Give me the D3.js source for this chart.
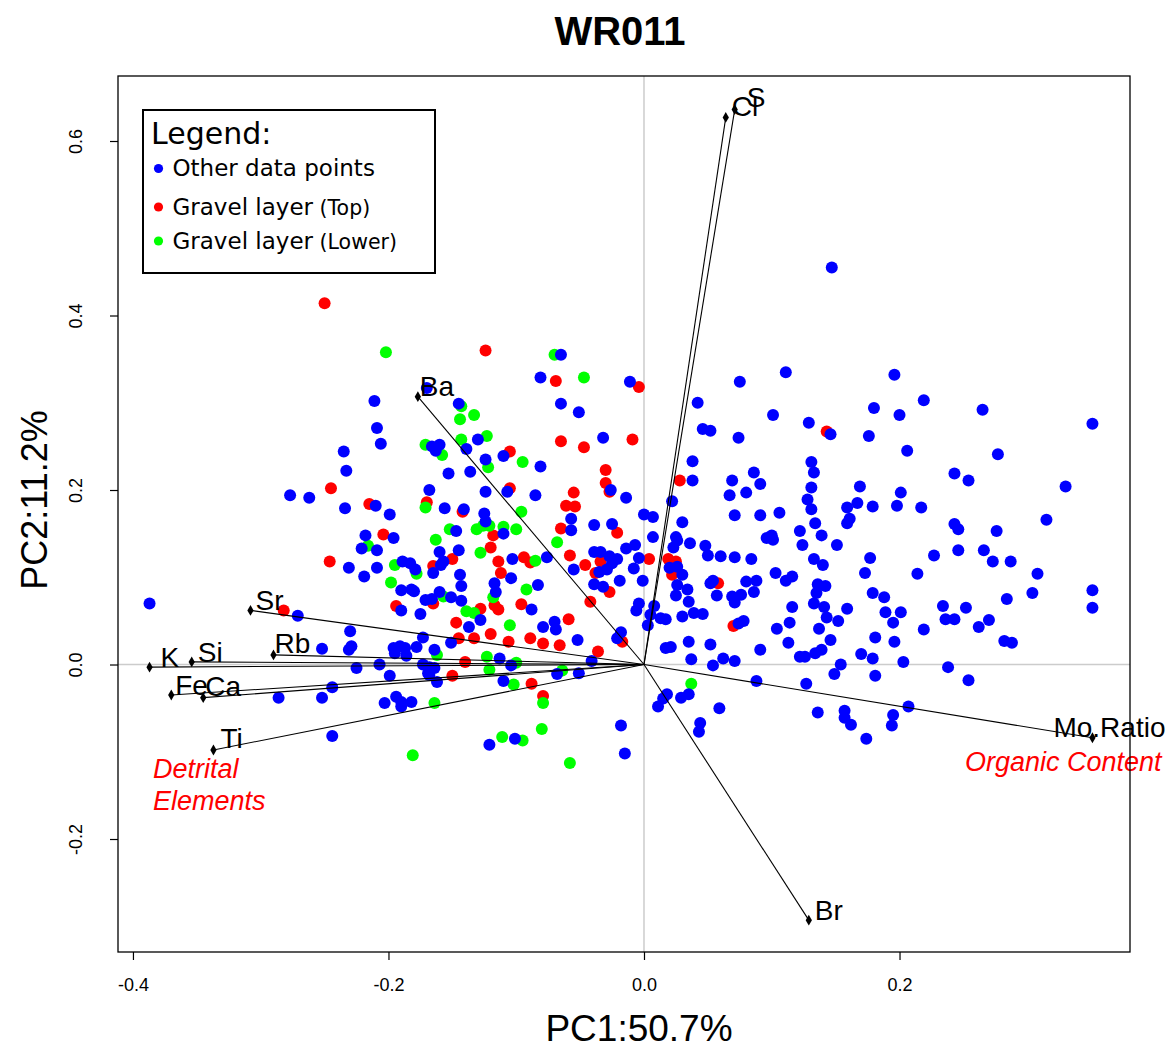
<!DOCTYPE html>
<html>
<head>
<meta charset="utf-8">
<script src="https://cdn.jsdelivr.net/npm/d3@7"></script>
<style>
  body { margin: 0; background: #ffffff; }
</style>
</head>
<body>
<svg id="chart" width="1173" height="1048"></svg>
<script>
// ---- PCA biplot data -------------------------------------------------------
const chartTitle = "WR011";
const xTitle = "PC1:50.7%";
const yTitle = "PC2:11.2%";
const xTicks = [-0.4, -0.2, 0.0, 0.2];
const yTicks = [-0.2, 0.0, 0.2, 0.4, 0.6];
const xLimits = [-0.4117, 0.3804];
const yLimits = [-0.3295, 0.6745];

// Variable loadings (arrow tips)
const varNames = ["Ba", "Sr", "Rb", "K", "Si", "Fe", "Ca", "Ti", "Cl", "S", "Br", "Mo.Ratio"];
const loadX = [-0.177, -0.308, -0.290, -0.387, -0.354, -0.370, -0.345, -0.337, 0.064, 0.071, 0.129, 0.351];
const loadY = [0.307, 0.062, 0.011, -0.003, 0.003, -0.035, -0.038, -0.098, 0.627, 0.636, -0.293, -0.084];

// Sample scores: PC1, PC2
const otherPoints = [
  [-0.277,0.194],[-0.262,0.191],[-0.081,0.329],[-0.170,0.317],[-0.211,0.302],[-0.145,0.299],[-0.130,0.258],[-0.209,0.271],[-0.206,0.253],[-0.166,0.250],
  [-0.160,0.252],[-0.163,0.245],[-0.139,0.247],[-0.235,0.244],[-0.110,0.239],[-0.124,0.235],[-0.081,0.227],[-0.233,0.222],[-0.153,0.219],[-0.136,0.221],
  [-0.168,0.200],[-0.124,0.198],[-0.107,0.198],[-0.085,0.194],[-0.210,0.182],[-0.234,0.179],[-0.199,0.172],[-0.156,0.179],[-0.141,0.178],[-0.125,0.173],
  [-0.065,0.355],[-0.011,0.324],[-0.065,0.299],[-0.051,0.289],[0.042,0.300],[0.046,0.270],[0.052,0.268],[-0.032,0.260],[0.038,0.233],[0.038,0.211],
  [-0.026,0.200],[-0.014,0.191],[0.022,0.187],[-0.057,0.167],[0.000,0.172],[0.007,0.169],
  [0.147,0.455],[0.111,0.335],[0.075,0.324],[0.196,0.332],[0.219,0.303],[0.180,0.294],[0.101,0.286],[0.200,0.286],[0.129,0.277],[0.146,0.264],
  [0.176,0.262],[0.074,0.260],[0.206,0.245],[0.131,0.232],[0.133,0.220],[0.086,0.220],[0.069,0.211],[0.091,0.207],[0.131,0.203],[0.169,0.204],
  [0.201,0.197],[0.067,0.194],[0.080,0.197],[0.128,0.189],[0.131,0.178],[0.167,0.185],[0.159,0.180],[0.179,0.181],[0.198,0.182],[0.217,0.180],
  [0.071,0.171],[0.091,0.171],[0.106,0.174],[0.161,0.167],
  [0.265,0.292],[0.351,0.276],[0.277,0.241],[0.243,0.219],[0.254,0.211],[0.330,0.204],[0.315,0.166],[0.243,0.161],[0.246,0.155],[0.276,0.153],
  [-0.387,0.070],[-0.271,0.056],[-0.252,0.018],[-0.244,-0.026],[-0.286,-0.038],[-0.252,-0.038],[-0.244,-0.082],
  [-0.124,0.164],[-0.147,0.153],[-0.110,0.150],[-0.218,0.148],[-0.196,0.145],[-0.221,0.133],[-0.209,0.131],[-0.145,0.131],[-0.160,0.129],
  [-0.231,0.111],[-0.209,0.111],[-0.219,0.101],[-0.189,0.118],[-0.183,0.116],[-0.179,0.109],[-0.157,0.118],[-0.159,0.114],[-0.165,0.105],[-0.144,0.103],
  [-0.143,0.090],[-0.103,0.121],[-0.104,0.099],[-0.117,0.093],[-0.116,0.083],[-0.083,0.091],[-0.190,0.085],[-0.182,0.086],[-0.180,0.084],[-0.160,0.083],
  [-0.151,0.077],[-0.171,0.074],[-0.166,0.075],[-0.143,0.073],[-0.190,0.062],[-0.175,0.058],[-0.128,0.051],[-0.088,0.063],[-0.137,0.043],[-0.151,0.025],
  [-0.230,0.038],[-0.173,0.031],[-0.229,0.021],[-0.231,0.017],[-0.196,0.019],[-0.191,0.021],[-0.187,0.019],[-0.195,0.013],[-0.186,0.010],[-0.178,0.020],
  [-0.164,0.017],[-0.207,0.000],[-0.225,-0.004],[-0.173,0.000],[-0.168,-0.003],[-0.164,-0.004],[-0.169,-0.010],[-0.168,-0.012],[-0.113,0.007],[-0.104,-0.001],
  [-0.199,-0.013],[-0.162,-0.020],[-0.110,-0.019],[-0.194,-0.037],[-0.190,-0.043],[-0.182,-0.043],[-0.203,-0.044],[-0.190,-0.048],[-0.101,-0.085],[-0.121,-0.092],
  [-0.057,0.154],[-0.039,0.160],[-0.025,0.161],[0.007,0.146],[0.030,0.163],[0.025,0.146],[0.026,0.142],[0.023,0.134],[0.036,0.139],[0.048,0.136],
  [0.050,0.125],[0.060,0.124],[0.071,0.123],[-0.076,0.123],[-0.039,0.129],[-0.034,0.129],[-0.027,0.124],[-0.021,0.121],[-0.025,0.116],[-0.055,0.109],
  [-0.035,0.106],[-0.029,0.109],[-0.014,0.133],[-0.007,0.137],[-0.004,0.122],[-0.008,0.110],[0.020,0.111],[0.026,0.112],[0.030,0.103],[0.026,0.091],
  [0.034,0.086],[0.054,0.096],[0.052,0.093],[0.057,0.079],[0.069,0.078],[0.071,0.071],[-0.039,0.092],[-0.032,0.089],[-0.019,0.096],[-0.001,0.096],
  [0.025,0.079],[0.035,0.072],[-0.004,0.070],[-0.006,0.062],[0.008,0.067],[0.005,0.057],[0.013,0.053],[0.017,0.052],[0.030,0.055],[0.039,0.059],
  [0.046,0.058],[-0.079,0.043],[-0.070,0.049],[-0.069,0.040],[0.003,0.045],[-0.018,0.037],[-0.021,0.030],[-0.052,0.028],[0.017,0.019],[0.021,0.020],
  [0.035,0.026],[0.052,0.023],[0.037,0.006],[0.054,-0.001],[0.062,0.007],[0.071,0.004],[-0.041,0.004],[-0.068,-0.011],[-0.051,-0.010],[0.035,-0.034],
  [0.029,-0.038],[0.018,-0.034],[0.015,-0.039],[0.011,-0.048],[0.059,-0.050],[-0.018,-0.070],[0.044,-0.067],[0.043,-0.077],[-0.015,-0.102],
  [0.134,0.162],[0.159,0.162],[0.122,0.153],[0.139,0.148],[0.096,0.145],[0.100,0.148],[0.101,0.143],[0.124,0.137],[0.151,0.137],[0.084,0.121],
  [0.133,0.121],[0.140,0.114],[0.177,0.122],[0.227,0.125],[0.103,0.105],[0.173,0.105],[0.214,0.104],[0.111,0.096],[0.116,0.101],[0.080,0.095],
  [0.088,0.096],[0.136,0.092],[0.142,0.090],[0.135,0.082],[0.086,0.083],[0.076,0.080],[0.179,0.082],[0.188,0.077],[0.116,0.066],[0.133,0.070],
  [0.141,0.066],[0.143,0.054],[0.159,0.064],[0.189,0.060],[0.201,0.060],[0.195,0.048],[0.152,0.050],[0.114,0.048],[0.078,0.050],[0.074,0.047],
  [0.104,0.041],[0.137,0.041],[0.219,0.040],[0.181,0.031],[0.196,0.026],[0.146,0.028],[0.113,0.025],[0.091,0.017],[0.122,0.009],[0.126,0.009],
  [0.134,0.013],[0.139,0.017],[0.170,0.012],[0.179,0.007],[0.203,0.003],[0.154,0.000],[0.149,-0.011],[0.181,-0.013],[0.088,-0.019],[0.127,-0.022],
  [0.207,-0.048],[0.136,-0.055],[0.157,-0.053],[0.157,-0.061],[0.162,-0.069],[0.195,-0.058],[0.194,-0.070],[0.174,-0.085],
  [0.246,0.131],[0.266,0.131],[0.273,0.118],[0.287,0.118],[0.308,0.104],[0.304,0.082],[0.284,0.075],[0.351,0.085],[0.351,0.065],[0.234,0.067],
  [0.252,0.065],[0.236,0.052],[0.243,0.052],[0.270,0.051],[0.262,0.043],[0.282,0.027],[0.288,0.025],[0.238,-0.003],[0.254,-0.018]
];

const gravelTop = [
  [-0.250,0.414],[-0.245,0.202],[-0.124,0.360],[-0.105,0.244],[-0.105,0.202],[-0.215,0.184],[-0.170,0.186],[-0.142,0.175],[-0.069,0.325],[-0.004,0.318],
  [-0.065,0.256],[-0.047,0.249],[-0.009,0.258],[-0.030,0.223],[-0.030,0.208],[0.028,0.211],[-0.055,0.197],[-0.027,0.198],[-0.061,0.182],[-0.054,0.181],
  [0.143,0.267],[-0.246,0.118],[-0.282,0.062],[-0.204,0.149],[-0.118,0.148],[-0.120,0.134],[-0.165,0.113],[-0.150,0.121],[-0.114,0.118],[-0.094,0.123],
  [-0.089,0.117],[-0.112,0.105],[-0.165,0.070],[-0.194,0.067],[-0.128,0.064],[-0.117,0.068],[-0.114,0.063],[-0.096,0.069],[-0.147,0.048],[-0.120,0.035],
  [-0.089,0.030],[-0.106,0.026],[-0.145,0.030],[-0.133,0.030],[-0.140,0.003],[-0.150,-0.013],[-0.088,-0.022],[-0.065,0.156],[-0.021,0.151],[-0.058,0.125],
  [-0.034,0.118],[-0.046,0.114],[-0.038,0.105],[0.004,0.121],[0.019,0.121],[0.025,0.118],[0.022,0.103],[0.058,0.093],[-0.027,0.083],[-0.042,0.072],
  [0.070,0.044],[-0.059,0.052],[-0.017,0.026],[-0.079,0.024],[-0.066,0.022],[-0.036,0.015],[-0.079,-0.036]
];

const gravelLower = [
  [-0.202,0.358],[-0.070,0.355],[-0.047,0.329],[-0.143,0.296],[-0.133,0.286],[-0.144,0.281],[-0.123,0.262],[-0.143,0.258],[-0.171,0.252],[-0.158,0.240],
  [-0.095,0.232],[-0.122,0.226],[-0.171,0.180],[-0.096,0.175],[-0.152,0.155],[-0.131,0.155],[-0.126,0.159],[-0.121,0.159],[-0.110,0.158],[-0.100,0.155],
  [-0.163,0.143],[-0.216,0.136],[-0.128,0.128],[-0.195,0.114],[-0.178,0.104],[-0.085,0.119],[-0.092,0.086],[-0.198,0.094],[-0.157,0.078],[-0.118,0.077],
  [-0.139,0.061],[-0.133,0.059],[-0.105,0.045],[-0.162,0.011],[-0.123,0.009],[-0.121,-0.006],[-0.100,0.002],[-0.102,-0.023],[-0.164,-0.044],[-0.111,-0.083],
  [-0.095,-0.087],[-0.181,-0.104],[-0.068,0.140],[-0.064,-0.007],[0.037,-0.022],[-0.079,-0.044],[-0.080,-0.074],[-0.058,-0.113]
];

const legendTitle = "Legend:";
const legendItems = [
  { main: "Other data points", note: "", color: "#0000ff" },
  { main: "Gravel layer", note: "(Top)", color: "#ff0000" },
  { main: "Gravel layer", note: "(Lower)", color: "#00ff00" }
];
const groupNotes = [
  { lines: ["Detrital", "Elements"], anchor: "start" },
  { lines: ["Organic Content"], anchor: "start" }
];

// ---- layout --------------------------------------------------------------
const sansFont = "'Liberation Sans', Arial, sans-serif";
const legendFont = "'DejaVu Sans', Verdana, sans-serif";
const svg = d3.select("#chart");
const box = { left: 118, right: 1130, top: 76, bottom: 952 };

const x = d3.scaleLinear().domain(xLimits).range([box.left, box.right]);
const y = d3.scaleLinear().domain(yLimits).range([box.bottom, box.top]);
const fmt = d => d.toFixed(1);

svg.append("rect").attr("width", 1173).attr("height", 1048).attr("fill", "#fff");

// zero reference lines
svg.append("line")
  .attr("x1", x(0)).attr("x2", x(0)).attr("y1", box.top).attr("y2", box.bottom)
  .attr("stroke", "#cccccc").attr("stroke-width", 1.5);
svg.append("line")
  .attr("x1", box.left).attr("x2", box.right).attr("y1", y(0)).attr("y2", y(0))
  .attr("stroke", "#cccccc").attr("stroke-width", 1.5);

// sample points
const pointLayers = [
  { data: gravelTop, color: "#ff0000" },
  { data: gravelLower, color: "#00ff00" },
  { data: otherPoints, color: "#0000ff" }
];
pointLayers.forEach(layer => {
  svg.append("g").selectAll("circle")
    .data(layer.data)
    .join("circle")
    .attr("cx", d => x(d[0]))
    .attr("cy", d => y(d[1]))
    .attr("r", 6)
    .attr("fill", layer.color);
});

// loading arrows
const loadings = varNames.map((n, i) => ({ name: n, lx: loadX[i], ly: loadY[i] }));
const labelShift = {
  "Ba": [2, -1], "Sr": [5, 0], "Rb": [1, -2], "K": [11, 0], "Si": [6, 0], "Fe": [4, 0],
  "Ca": [2, -2], "Ti": [7, -2], "Cl": [6, -1], "S": [12, -3], "Br": [6, 0], "Mo.Ratio": [-39, -1]
};
const arrows = svg.append("g");
arrows.selectAll("line")
  .data(loadings)
  .join("line")
  .attr("x1", x(0)).attr("y1", y(0))
  .attr("x2", d => x(d.lx)).attr("y2", d => y(d.ly))
  .attr("stroke", "#000").attr("stroke-width", 1.1);
arrows.selectAll("path")
  .data(loadings)
  .join("path")
  .attr("d", d3.symbol(d3.symbolDiamond, 34))
  .attr("transform", d => `translate(${x(d.lx)},${y(d.ly)})`)
  .attr("fill", "#000");
arrows.selectAll("text")
  .data(loadings)
  .join("text")
  .attr("x", d => x(d.lx) + labelShift[d.name][0])
  .attr("y", d => y(d.ly) + labelShift[d.name][1])
  .style("font-family", sansFont)
  .attr("font-size", 28)
  .attr("fill", "#000")
  .text(d => d.name);

// group annotations
const notePos = [[153, 778], [965, 771]];
groupNotes.forEach((g, i) => {
  g.lines.forEach((line, j) => {
    svg.append("text")
      .attr("x", notePos[i][0]).attr("y", notePos[i][1] + j * 32)
      .style("font-family", sansFont)
      .attr("font-size", 27).attr("font-style", "italic")
      .attr("fill", "#ff0000").attr("text-anchor", g.anchor)
      .text(line);
  });
});

// plot frame
svg.append("rect")
  .attr("x", box.left).attr("y", box.top)
  .attr("width", box.right - box.left).attr("height", box.bottom - box.top)
  .attr("fill", "none").attr("stroke", "#000").attr("stroke-width", 1.3);

// axes
const xAxis = svg.append("g")
  .attr("transform", `translate(0,${box.bottom})`)
  .call(d3.axisBottom(x).tickValues(xTicks).tickFormat(fmt).tickSize(8).tickSizeOuter(0).tickPadding(18));
xAxis.select(".domain").remove();
xAxis.selectAll("line").attr("stroke", "#000").attr("stroke-width", 1.2);
xAxis.selectAll("text").attr("font-size", 18).style("font-family", sansFont).attr("fill", "#000");

const yAxis = svg.append("g")
  .attr("transform", `translate(${box.left},0)`)
  .call(d3.axisLeft(y).tickValues(yTicks).tickFormat(fmt).tickSize(8).tickSizeOuter(0));
yAxis.select(".domain").remove();
yAxis.selectAll("line").attr("stroke", "#000").attr("stroke-width", 1.2);
yAxis.selectAll("text")
  .attr("x", 0).attr("dy", 0)
  .attr("transform", "translate(-36,0) rotate(-90)")
  .attr("text-anchor", "middle")
  .attr("font-size", 18).style("font-family", sansFont).attr("fill", "#000");

// titles
svg.append("text")
  .attr("x", 620).attr("y", 45)
  .attr("text-anchor", "middle").attr("font-size", 40).attr("font-weight", "bold")
  .style("font-family", sansFont)
  .text(chartTitle);
svg.append("text")
  .attr("x", 639).attr("y", 1041)
  .attr("text-anchor", "middle").attr("font-size", 37)
  .style("font-family", sansFont)
  .text(xTitle);
svg.append("text")
  .attr("transform", "translate(47,500) rotate(-90)")
  .attr("text-anchor", "middle").attr("font-size", 36)
  .style("font-family", sansFont)
  .text(yTitle);

// legend
const lg = svg.append("g");
lg.append("rect")
  .attr("x", 143).attr("y", 110).attr("width", 292).attr("height", 163)
  .attr("fill", "#fff").attr("stroke", "#000").attr("stroke-width", 2);
lg.append("text")
  .attr("x", 151).attr("y", 144)
  .style("font-family", legendFont).attr("font-size", 30)
  .text(legendTitle);
const itemY = [176, 214.5, 248.5];
legendItems.forEach((it, i) => {
  lg.append("circle")
    .attr("cx", 158.5).attr("cy", itemY[i] - 7.5).attr("r", 4.6)
    .attr("fill", it.color);
  const t = lg.append("text")
    .attr("x", 172.5).attr("y", itemY[i])
    .style("font-family", legendFont).attr("font-size", 23);
  t.append("tspan").text(it.main);
  if (it.note) {
    t.append("tspan").attr("font-size", 20.5).text(" " + it.note);
  }
});
</script>
</body>
</html>
